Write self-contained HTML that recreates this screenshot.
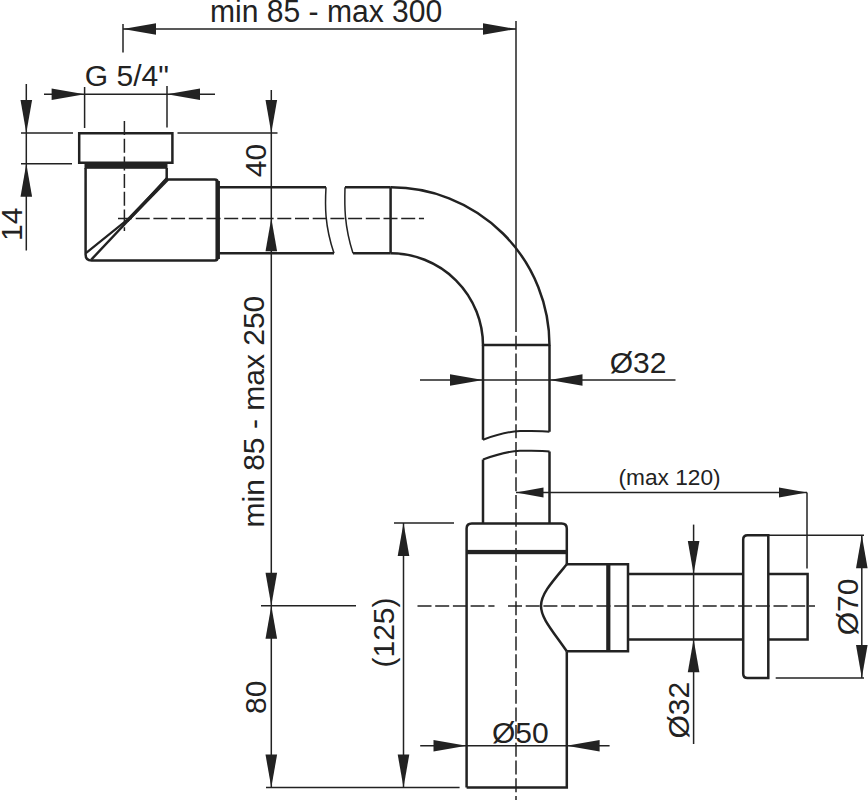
<!DOCTYPE html>
<html><head><meta charset="utf-8"><style>
html,body{margin:0;padding:0;background:#fff;width:868px;height:800px;overflow:hidden}
svg{display:block}
text{font-family:"Liberation Sans",sans-serif;fill:#222;stroke:none}
</style></head><body>
<svg width="868" height="800" viewBox="0 0 868 800" stroke="#222" stroke-linecap="butt">
<line x1="123" y1="29" x2="516" y2="29" stroke-width="1.5"/>
<polygon points="123.00,29.00 156.00,23.20 156.00,34.80" stroke="none" fill="#222"/>
<polygon points="516.00,29.00 483.00,34.80 483.00,23.20" stroke="none" fill="#222"/>
<line x1="123" y1="24" x2="123" y2="52.5" stroke-width="1.5"/>
<line x1="516" y1="21" x2="516" y2="318" stroke-width="1.5"/>
<text x="0" y="0" transform="translate(210,21.5) scale(0.955,1)" font-size="31.50" text-anchor="start">min 85 - max 300</text>
<line x1="44" y1="94.2" x2="215" y2="94.2" stroke-width="1.5"/>
<polygon points="84.60,94.20 51.60,100.00 51.60,88.40" stroke="none" fill="#222"/>
<polygon points="167.00,94.20 200.00,88.40 200.00,100.00" stroke="none" fill="#222"/>
<line x1="84.6" y1="87" x2="84.6" y2="128" stroke-width="1.5"/>
<line x1="167" y1="86" x2="167" y2="127.5" stroke-width="1.5"/>
<text x="0" y="0" transform="translate(84.8,85.5) scale(1.0,1)" font-size="30.00" text-anchor="start">G 5/4&quot;</text>
<line x1="26.3" y1="84" x2="26.3" y2="250.5" stroke-width="1.5"/>
<polygon points="26.30,133.00 20.50,100.00 32.10,100.00" stroke="none" fill="#222"/>
<polygon points="26.30,163.80 32.10,196.80 20.50,196.80" stroke="none" fill="#222"/>
<line x1="21" y1="133" x2="73" y2="133" stroke-width="1.5"/>
<line x1="21" y1="163.8" x2="72" y2="163.8" stroke-width="1.5"/>
<text x="0" y="0" transform="translate(21.7,241) rotate(-90) scale(1.0,1)" font-size="30.00" text-anchor="start">14</text>
<line x1="271.3" y1="90" x2="271.3" y2="787.6" stroke-width="1.5"/>
<polygon points="271.30,133.00 265.50,100.00 277.10,100.00" stroke="none" fill="#222"/>
<polygon points="271.30,218.30 277.10,251.30 265.50,251.30" stroke="none" fill="#222"/>
<line x1="177.5" y1="133" x2="277.5" y2="133" stroke-width="1.5"/>
<polygon points="271.30,605.80 265.50,572.80 277.10,572.80" stroke="none" fill="#222"/>
<polygon points="271.30,605.80 277.10,638.80 265.50,638.80" stroke="none" fill="#222"/>
<polygon points="271.30,787.60 265.50,754.60 277.10,754.60" stroke="none" fill="#222"/>
<line x1="261" y1="605.8" x2="356" y2="605.8" stroke-width="1.5"/>
<line x1="266" y1="787.6" x2="459.6" y2="787.6" stroke-width="1.5"/>
<text x="0" y="0" transform="translate(265.5,177.3) rotate(-90) scale(1.0,1)" font-size="30.00" text-anchor="start">40</text>
<text x="0" y="0" transform="translate(264,527.5) rotate(-90) scale(1.0,1)" font-size="30.00" text-anchor="start">min 85 - max 250</text>
<text x="0" y="0" transform="translate(266.2,714) rotate(-90) scale(1.0,1)" font-size="30.00" text-anchor="start">80</text>
<line x1="403.5" y1="523" x2="403.5" y2="787.6" stroke-width="1.5"/>
<polygon points="403.50,523.00 409.30,556.00 397.70,556.00" stroke="none" fill="#222"/>
<polygon points="403.50,787.60 397.70,754.60 409.30,754.60" stroke="none" fill="#222"/>
<line x1="394" y1="523" x2="454" y2="523" stroke-width="1.5"/>
<text x="0" y="0" transform="translate(393.5,667.5) rotate(-90) scale(1.0,1)" font-size="30.00" text-anchor="start">(125)</text>
<line x1="420" y1="380" x2="675.5" y2="380" stroke-width="1.5"/>
<polygon points="483.00,380.00 450.00,385.80 450.00,374.20" stroke="none" fill="#222"/>
<polygon points="549.50,380.00 582.50,374.20 582.50,385.80" stroke="none" fill="#222"/>
<text x="0" y="0" transform="translate(609.7,372.5) scale(1.0,1)" font-size="30.00" text-anchor="start">&#216;32</text>
<line x1="516" y1="492.5" x2="807" y2="492.5" stroke-width="1.5"/>
<polygon points="516.00,492.50 543.50,487.50 543.50,497.50" stroke="none" fill="#222"/>
<polygon points="807.00,492.50 779.00,497.50 779.00,487.50" stroke="none" fill="#222"/>
<line x1="807" y1="492.5" x2="807" y2="568.5" stroke-width="1.5"/>
<text x="0" y="0" transform="translate(618.5,484.8) scale(1.0,1)" font-size="22.68" text-anchor="start">(max 120)</text>
<line x1="693.6" y1="524.6" x2="693.6" y2="744" stroke-width="1.5"/>
<polygon points="693.60,573.90 687.80,540.90 699.40,540.90" stroke="none" fill="#222"/>
<polygon points="693.60,639.30 699.40,672.30 687.80,672.30" stroke="none" fill="#222"/>
<text x="0" y="0" transform="translate(688.7,738.5) rotate(-90) scale(1.0,1)" font-size="30.00" text-anchor="start">&#216;32</text>
<line x1="861.8" y1="535.3" x2="861.8" y2="678" stroke-width="1.5"/>
<polygon points="861.80,535.30 867.60,568.30 856.00,568.30" stroke="none" fill="#222"/>
<polygon points="861.80,678.00 856.00,645.00 867.60,645.00" stroke="none" fill="#222"/>
<line x1="768" y1="535.3" x2="864" y2="535.3" stroke-width="1.5"/>
<line x1="775.7" y1="678" x2="864" y2="678" stroke-width="1.5"/>
<text x="0" y="0" transform="translate(858,635.3) rotate(-90) scale(1.0,1)" font-size="30.00" text-anchor="start">&#216;70</text>
<line x1="420.2" y1="745.7" x2="609.6" y2="745.7" stroke-width="1.5"/>
<polygon points="466.50,745.70 433.50,751.50 433.50,739.90" stroke="none" fill="#222"/>
<polygon points="566.60,745.70 599.60,739.90 599.60,751.50" stroke="none" fill="#222"/>
<text x="0" y="0" transform="translate(492,743.4) scale(1.0,1)" font-size="30.00" text-anchor="start">&#216;50</text>
<line x1="124.4" y1="121" x2="124.4" y2="231" stroke-width="1.5" stroke-dasharray="14 3.7"/>
<line x1="118" y1="218.4" x2="424" y2="218.4" stroke-width="1.5" stroke-dasharray="14 3.7"/>
<line x1="516" y1="318" x2="516" y2="800" stroke-width="1.5" stroke-dasharray="14 3.7"/>
<line x1="417.5" y1="605.9" x2="494.5" y2="605.9" stroke-width="1.5" stroke-dasharray="14 3.7"/>
<line x1="508" y1="605.9" x2="815" y2="605.9" stroke-width="1.5" stroke-dasharray="14 3.7"/>
<path d="M79.2,133.3 H172.4 V162.7 H79.2 Z" stroke-width="2.5" fill="none"/>
<rect x="84.5" y="163" width="83" height="5.8" fill="#222" stroke="none"/>
<path d="M85.6,168 V254.6 Q85.6,260.6 91.6,260.6 H214.7 Q217.7,260.6 217.7,257.6 V182.4 Q217.7,179.4 214.7,179.4 H166.7 V168" stroke-width="2.5" fill="none"/>
<path d="M167.3,179 L91.3,259.6" stroke-width="2.4" fill="none"/>
<polygon points="168.83,180.44 128.31,221.95 126.71,220.44 165.77,177.56" fill="#222" stroke="none"/>
<path d="M166.3,179.2 L127.8,219.3 L85.9,253.1" stroke-width="2.2" fill="none" stroke-linejoin="round"/>
<path d="M217.7,181 V259" stroke-width="4.5" fill="none"/>
<path d="M219,187.3 H326 M219,253.3 H334" stroke-width="2.5" fill="none"/>
<path d="M326,187.3 C325,205 324.5,225 334,253.3" stroke-width="1.5" fill="none"/>
<path d="M345,187.3 C344.5,205 344,225 353,253.3" stroke-width="1.5" fill="none"/>
<path d="M345,187.3 H390.6 M353,253.3 H390.6 M390.6,187.3 V253.3" stroke-width="2.5" fill="none"/>
<path d="M390.6,187.3 A158.5,158.2 0 0 1 549.5,345.5" stroke-width="2.5" fill="none"/>
<path d="M390.6,253.3 A92.4,92.2 0 0 1 483,345.5" stroke-width="2.5" fill="none"/>
<path d="M483,345 H549.5" stroke-width="2.5" fill="none"/>
<path d="M483,345 V439.7 M549.5,345 V431.7" stroke-width="2.5" fill="none"/>
<path d="M483,439.7 C497,434.5 507,431.5 520,431 C535,430.7 545,431 549.5,431.7" stroke-width="2" fill="none"/>
<path d="M483,459.5 C497,454.3 507,451.3 520,450.8 C535,450.5 545,450.8 549.5,451.5" stroke-width="2" fill="none"/>
<path d="M483,459.5 V523.3 M549.5,451.5 V523.3" stroke-width="2.5" fill="none"/>
<path d="M466.6,787.6 V528.5 Q466.6,523.4 471.8,523.4 H561.6 Q566.8,523.4 566.8,528.5 V564.3" stroke-width="2.5" fill="none"/>
<path d="M566.8,651.3 V787.6 H466.6" stroke-width="2.5" fill="none"/>
<rect x="466.6" y="549.9" width="100.2" height="4.3" fill="#222" stroke="none"/>
<path d="M566.8,564.3 C552,582 541,594 541,606 C541,618 552,630 566.8,651.3" stroke-width="2.5" fill="none"/>
<path d="M566.8,564.3 H628 V651.3 H566.8" stroke-width="2.5" fill="none"/>
<path d="M608.3,564.3 V651.3" stroke-width="4.2" fill="none"/>
<path d="M628,574 H743.2 M628,639.4 H743.2" stroke-width="2.5" fill="none"/>
<path d="M768.3,535.3 H747.5 Q743.2,535.3 743.2,539.6 V673.7 Q743.2,678 747.5,678 H768.3 Z" stroke-width="2.5" fill="none"/>
<path d="M768.3,574 H807.6 V639.4 H768.3" stroke-width="2.5" fill="none"/>
</svg>
</body></html>
